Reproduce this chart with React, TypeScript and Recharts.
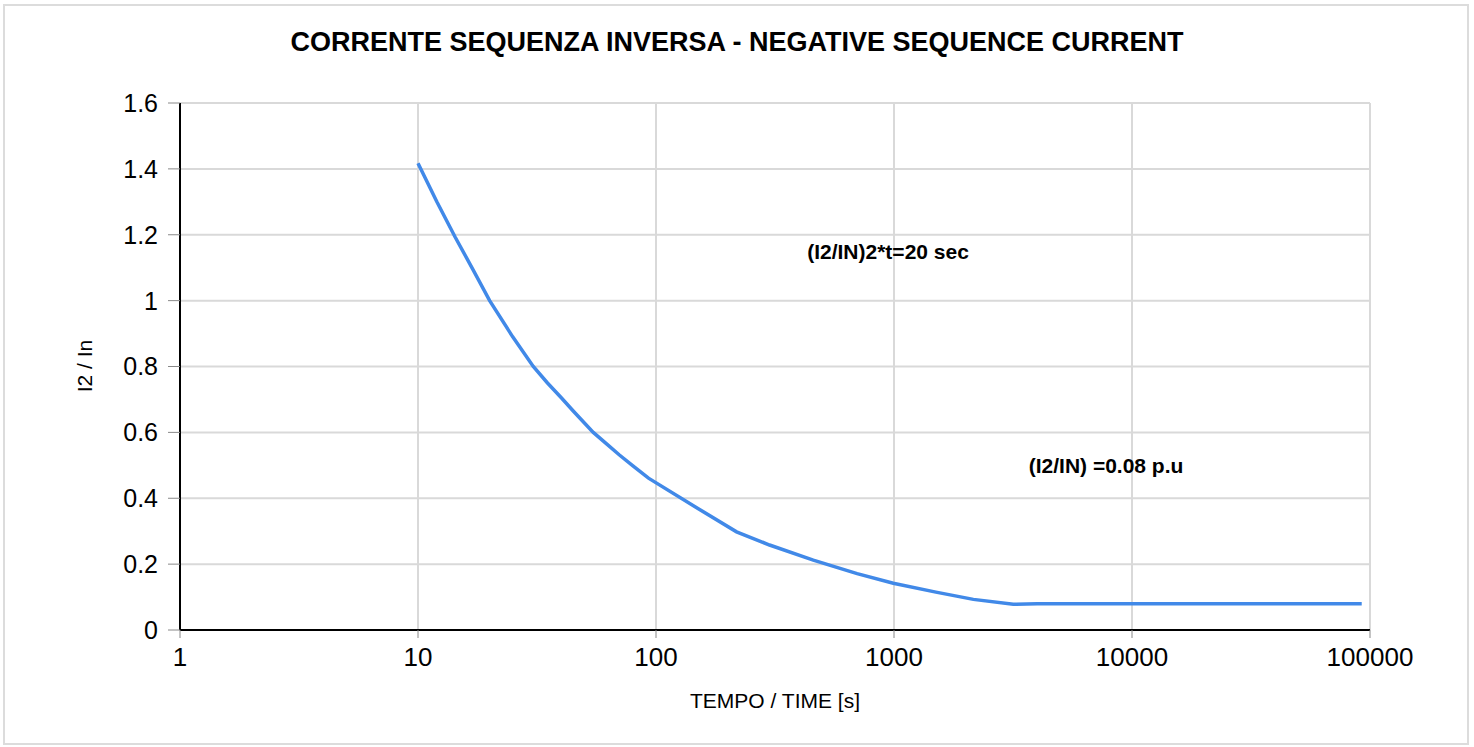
import React from "react";
import {
  LineChart,
  Line,
  XAxis,
  YAxis,
  CartesianGrid,
  ReferenceDot,
} from "recharts";

const timeSec = [
  10, 12, 14.3, 17, 20, 25, 30.5, 35, 40, 45, 54.5, 62, 70, 80, 93, 150, 218,
  300, 458, 700, 993, 1500, 2155, 3170, 4000, 10000, 30000, 92300,
];
const i2In = [
  1.417, 1.3, 1.194, 1.095, 1.0, 0.89, 0.8, 0.75, 0.705, 0.664, 0.6, 0.565,
  0.532, 0.498, 0.461, 0.369, 0.298, 0.258, 0.212, 0.171, 0.142, 0.115, 0.093,
  0.078, 0.08, 0.08, 0.08, 0.08,
];
const xTicks = [1, 10, 100, 1000, 10000, 100000];
const yTicks = [0, 0.2, 0.4, 0.6, 0.8, 1, 1.2, 1.4, 1.6];

const data = timeSec.map((t, i) => ({ t, v: i2In[i] }));

const FONT = "'Liberation Sans', Arial, sans-serif";

const noteLabel = (value: string) => ({
  value,
  position: "center" as const,
  fill: "#000",
  fontSize: 21,
  fontWeight: "bold",
  fontFamily: FONT,
});

export default function App() {
  return (
    <div
      style={{
        position: "absolute",
        left: 0,
        top: 0,
        width: 1474,
        height: 747,
        background: "#fff",
        fontFamily: FONT,
      }}
    >
      <div
        style={{
          position: "absolute",
          left: 3,
          top: 4,
          width: 1466,
          height: 741,
          border: "2px solid #dcdcdc",
          boxSizing: "border-box",
        }}
      />
      <div
        style={{
          position: "absolute",
          left: 0,
          top: 29,
          width: 1474,
          textAlign: "center",
          fontSize: 27,
          fontWeight: "bold",
          lineHeight: 1,
          color: "#000",
        }}
      >
        CORRENTE SEQUENZA INVERSA - NEGATIVE SEQUENCE CURRENT
      </div>
      <div
        style={{
          position: "absolute",
          left: 0,
          top: 690,
          width: 1550,
          textAlign: "center",
          fontSize: 21,
          lineHeight: 1,
          color: "#000",
        }}
      >
        TEMPO / TIME [s]
      </div>
      <div
        style={{
          position: "absolute",
          left: 84,
          top: 366,
          transform: "translate(-50%, -50%) rotate(-90deg)",
          fontSize: 21,
          lineHeight: 1,
          whiteSpace: "nowrap",
          color: "#000",
        }}
      >
        I2 / In
      </div>
      <div style={{ position: "absolute", left: 0, top: 0 }}>
        <LineChart
          width={1474}
          height={747}
          data={data}
          margin={{ top: 103, right: 104, bottom: 0, left: 0 }}
        >
          <CartesianGrid stroke="#d9d9d9" strokeWidth={2} />
          <XAxis
            type="number"
            dataKey="t"
            scale="log"
            domain={[1, 100000]}
            ticks={xTicks}
            allowDataOverflow
            height={117}
            tickSize={8}
            tickMargin={10}
            tickLine={{ stroke: "#888" }}
            axisLine={{ stroke: "#000", strokeWidth: 2 }}
            tick={{ fill: "#000", fontSize: 26, fontFamily: FONT }}
            interval={0}
          />
          <YAxis
            type="number"
            domain={[0, 1.6]}
            ticks={yTicks}
            width={180}
            tickSize={12}
            tickMargin={10}
            tickLine={{ stroke: "#888" }}
            axisLine={{ stroke: "#000", strokeWidth: 2 }}
            tick={{ fill: "#000", fontSize: 25, fontFamily: FONT }}
            interval={0}
          />
          <Line
            type="linear"
            dataKey="v"
            stroke="#4189e8"
            strokeWidth={3.5}
            dot={false}
            isAnimationActive={false}
          />
          <ReferenceDot
            x={944}
            y={1.15}
            r={0}
            fill="none"
            stroke="none"
            label={noteLabel("(I2/IN)2*t=20 sec")}
          />
          <ReferenceDot
            x={7780}
            y={0.5}
            r={0}
            fill="none"
            stroke="none"
            label={noteLabel("(I2/IN) =0.08 p.u")}
          />
        </LineChart>
      </div>
    </div>
  );
}
